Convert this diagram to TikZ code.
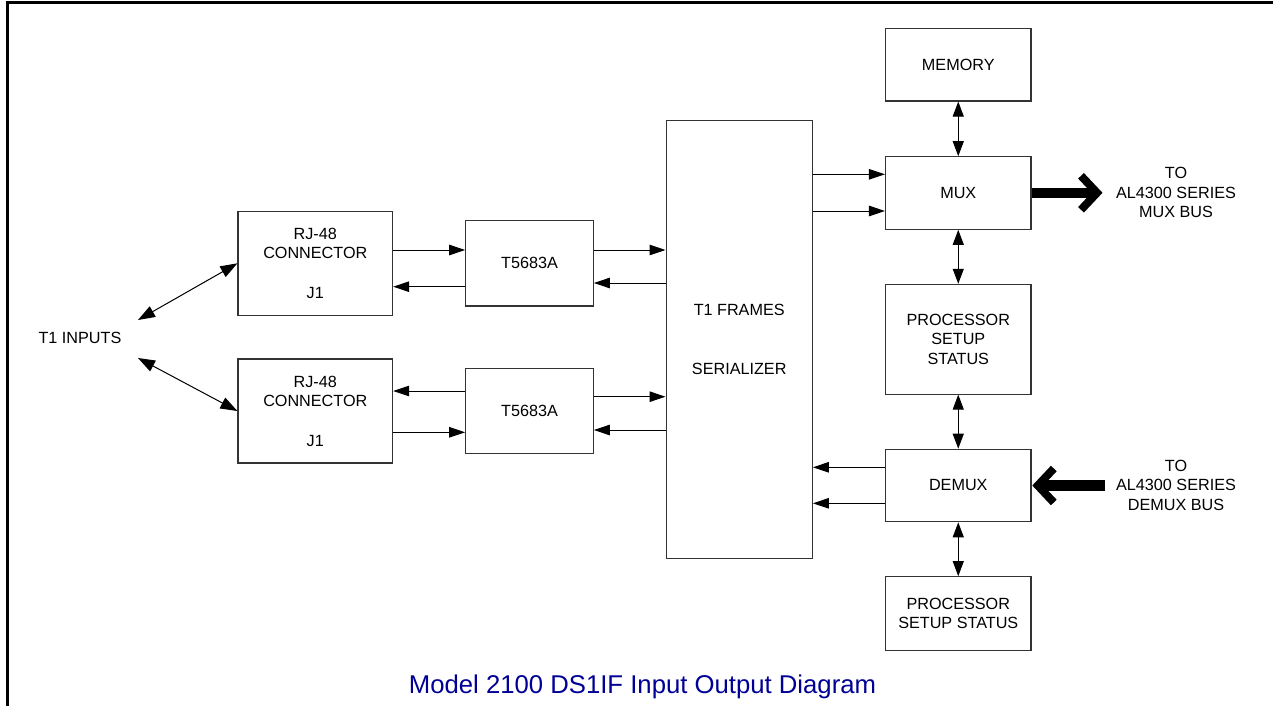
\documentclass[tikz,border=0pt]{standalone}
\usepackage{fontspec}
\setmainfont{Liberation Sans}
\usetikzlibrary{arrows.meta}
\definecolor{titleblue}{RGB}{0,0,150}
\begin{document}
\begin{tikzpicture}[x=1pt,y=-1pt,
  box/.style={draw=black!80, line width=1.1pt, align=center, inner sep=0pt, font=\fontsize{16.2}{19.5}\selectfont},
  lbl/.style={align=center, inner sep=0pt, font=\fontsize{16.2}{19.5}\selectfont},
  arr/.style={line width=1pt, -{Triangle[length=16pt,width=10.5pt]}},
  darr/.style={line width=1pt, {Triangle[length=15pt,width=11pt]}-{Triangle[length=15pt,width=11pt]}},
  dgarr/.style={line width=1pt, {Triangle[length=17pt,width=12pt]}-{Triangle[length=17pt,width=12pt]}},
  bus/.style={line width=10.5pt},
  chev/.style={line width=8pt, miter limit=10}
]
\useasboundingbox (0,0) rectangle (1273,706);
\fill[white] (0,0) rectangle (1273,706);
\draw[line width=3pt] (7,706) -- (7,3) -- (1273,3);

% right column
\node[box, minimum width=145.5pt, minimum height=72.5pt] (mem) at (958.25,64.75) {MEMORY};
\node[box, minimum width=145.5pt, minimum height=72.5pt] (mux) at (958.25,193) {MUX};
\node[box, minimum width=145.5pt, minimum height=109.7pt] (proc1) at (958.25,339.2) {PROCESSOR\\SETUP\\STATUS};
\node[box, minimum width=145.5pt, minimum height=72.5pt] (demux) at (958.25,485.5) {DEMUX};
\node[box, minimum width=145.5pt, minimum height=73.8pt] (proc2) at (958.25,613.6) {PROCESSOR\\SETUP STATUS};

% serializer
\node[box, minimum width=146.3pt, minimum height=437.3pt] (ser) at (739.2,339.4) {T1 FRAMES\\[39.5pt]SERIALIZER};

% connectors and transceivers
\node[box, minimum width=154.7pt, minimum height=103.5pt] (rj1) at (315.3,263.3) {RJ-48\\CONNECTOR\\[20pt]J1};
\node[box, minimum width=154.7pt, minimum height=104pt] (rj2) at (315.3,411) {RJ-48\\CONNECTOR\\[20pt]J1};
\node[box, minimum width=127.6pt, minimum height=85.3pt] (t1) at (529.5,263.3) {T5683A};
\node[box, minimum width=127.6pt, minimum height=85pt] (t2) at (529.5,410.8) {T5683A};

% labels
\node[lbl] (tin) at (80,337.7) {T1 INPUTS};
\node[lbl] (muxbus) at (1176,192.5) {TO\\AL4300 SERIES\\MUX BUS};
\node[lbl] (dmxbus) at (1176,485) {TO\\AL4300 SERIES\\DEMUX BUS};
\node[text=titleblue, inner sep=0pt, anchor=base, font=\fontsize{25.7}{30}\selectfont] (title) at (642.5,693.7) {Model 2100 DS1IF Input Output Diagram};

% T1 inputs
\coordinate (in1) at (138,320);
\coordinate (in2) at (138,358);
\draw[dgarr] (in1) -- (rj1.west);
\draw[dgarr] (in2) -- (rj2.west);

% RJ <-> T5683A
\draw[arr] (rj1.east |- 0,250) -- (t1.west |- 0,250);
\draw[arr] (t1.west |- 0,286.7) -- (rj1.east |- 0,286.7);
\draw[arr] (t2.west |- 0,391) -- (rj2.east |- 0,391);
\draw[arr] (rj2.east |- 0,432.3) -- (t2.west |- 0,432.3);

% T5683A <-> serializer
\draw[arr] (t1.east |- 0,250) -- (ser.west |- 0,250);
\draw[arr] (ser.west |- 0,283) -- (t1.east |- 0,283);
\draw[arr] (t2.east |- 0,396.7) -- (ser.west |- 0,396.7);
\draw[arr] (ser.west |- 0,430) -- (t2.east |- 0,430);

% serializer <-> mux / demux
\draw[arr] (ser.east |- 0,174.3) -- (mux.west |- 0,174.3);
\draw[arr] (ser.east |- 0,211) -- (mux.west |- 0,211);
\draw[arr] (demux.west |- 0,467.3) -- (ser.east |- 0,467.3);
\draw[arr] (demux.west |- 0,503.3) -- (ser.east |- 0,503.3);

% vertical links
\draw[darr] (mem.south) -- (mux.north);
\draw[darr] (mux.south) -- (proc1.north);
\draw[darr] (proc1.south) -- (demux.north);
\draw[darr] (demux.south) -- (proc2.north);

% bus arrows
\coordinate (muxtip) at (1097,192.8);
\draw[bus] (mux.east |- muxtip) -- (muxtip);
\draw[chev] ([shift={(-16,-17)}]muxtip) -- (muxtip) -- ([shift={(-16,17)}]muxtip);
\coordinate (dmxtip) at (1037.8,485.5);
\coordinate (dmxsrc) at (1105,485.5);
\draw[bus] (dmxsrc) -- (dmxtip);
\draw[chev] ([shift={(16,-17)}]dmxtip) -- (dmxtip) -- ([shift={(16,17)}]dmxtip);
\end{tikzpicture}
\end{document}
